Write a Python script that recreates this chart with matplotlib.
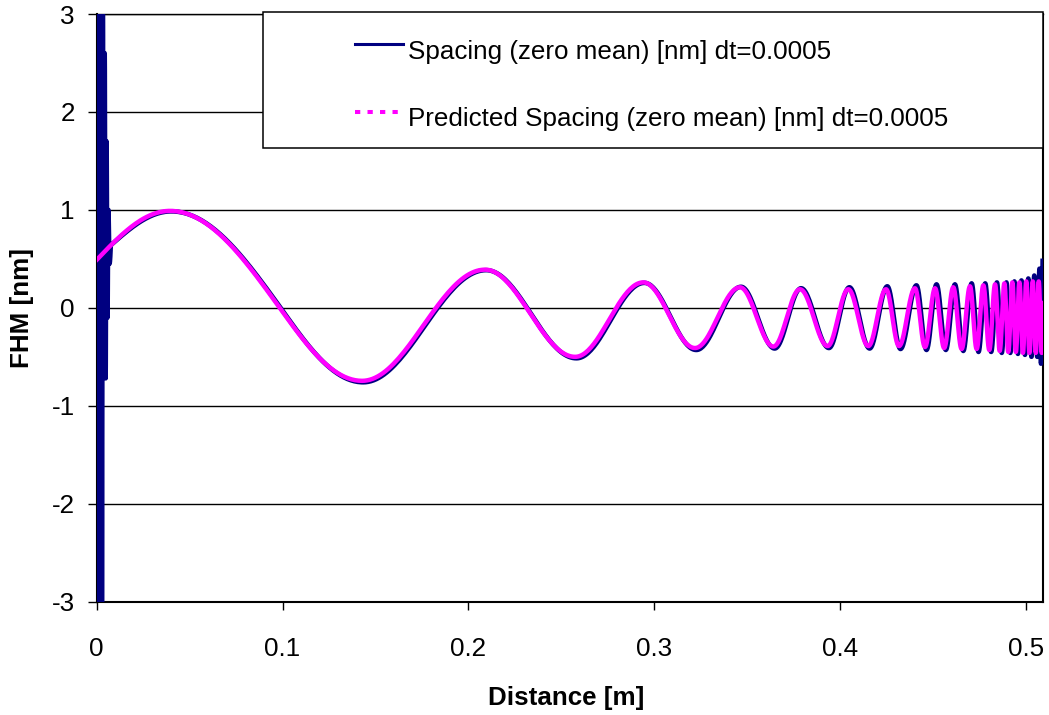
import numpy as np
import matplotlib
matplotlib.use("Agg")
import matplotlib.pyplot as plt
from matplotlib.lines import Line2D
from matplotlib.patches import Rectangle

# Turning points of the measured spacing (navy), Distance [m] -> FHM [nm].
# The first group is the start-up transient right after x = 0.
meas_x = [0.0000, 0.0004, 0.0008, 0.0012, 0.0016, 0.0020, 0.0024, 0.0028,
          0.0033, 0.0038, 0.0043, 0.0048, 0.0053, 0.0058, 0.0063, 0.0069,
          0.0076,
          0.0402, 0.0990, 0.1434, 0.2096, 0.2582, 0.2948, 0.3227, 0.3468,
          0.3649, 0.3791, 0.3941, 0.4051, 0.4160, 0.4255, 0.4326, 0.4412,
          0.4466, 0.4520, 0.4570, 0.4619, 0.4664, 0.4709, 0.4746, 0.4782,
          0.4814, 0.4845, 0.4871, 0.4896, 0.4917, 0.4939, 0.4958, 0.4977,
          0.4996, 0.5014, 0.5031, 0.5046, 0.5062, 0.5074, 0.5082, 0.5091]
meas_y = [3.5, -3.8, 3.6, -3.6, 3.5, -3.4, 3.4, -3.3,
          3.2, -0.70, 2.60, -0.72, 1.70, -0.10, 1.00, 0.45,
          0.64,
          0.985, 0.0, -0.760, 0.385, -0.515, 0.255, -0.430, 0.215,
          -0.415, 0.200, -0.410, 0.210, -0.415, 0.220, -0.420, 0.230,
          -0.430, 0.240, -0.430, 0.240, -0.440, 0.250, -0.450, 0.250,
          -0.450, 0.260, -0.460, 0.260, -0.460, 0.270, -0.470, 0.280,
          -0.480, 0.300, -0.500, 0.330, -0.500, 0.400, -0.570, 0.480]

# Turning points of the predicted spacing (magenta).
pred_x = [0.0000, 0.0395, 0.0985, 0.1428, 0.2090, 0.2575, 0.2942, 0.3220,
          0.3462, 0.3642, 0.3785, 0.3934, 0.4045, 0.4153, 0.4248, 0.4318,
          0.4404, 0.4458, 0.4512, 0.4561, 0.4610, 0.4655, 0.4700, 0.4736,
          0.4772, 0.4804, 0.4835, 0.4860, 0.4885, 0.4906, 0.4928, 0.4947,
          0.4966, 0.4985, 0.5003, 0.5020, 0.5038, 0.5054, 0.5070, 0.5086,
          0.5093]
pred_y = [0.49, 0.99, 0.0, -0.745, 0.39, -0.50, 0.26, -0.41,
          0.21, -0.395, 0.19, -0.39, 0.19, -0.39, 0.19, -0.39,
          0.20, -0.40, 0.20, -0.41, 0.21, -0.42, 0.22, -0.42,
          0.23, -0.43, 0.24, -0.44, 0.25, -0.45, 0.26, -0.45,
          0.26, -0.46, 0.27, -0.46, 0.27, -0.46, 0.27, -0.46,
          0.05]

x_ticks = [0, 0.1, 0.2, 0.3, 0.4, 0.5]
x_tick_labels = ["0", "0.1", "0.2", "0.3", "0.4", "0.5"]
y_ticks = [-3, -2, -1, 0, 1, 2, 3]
y_tick_labels = ["-3", "-2", "-1", "0", "1", "2", "3"]

series_labels = ["Spacing (zero mean) [nm] dt=0.0005",
                 "Predicted Spacing (zero mean) [nm] dt=0.0005"]
x_title = "Distance [m]"
y_title = "FHM [nm]"

NAVY = "#000080"
MAGENTA = "#FF00FF"
FONT = ["Liberation Sans", "DejaVu Sans"]
FS = 18.7

plt.rcParams["font.family"] = FONT
plt.rcParams["axes.unicode_minus"] = False
plt.rcParams["lines.scale_dashes"] = False


def trace(xs, ys, samples=48):
    """Smooth path through turning points: half-cosine arcs between
    extrema, quarter arcs next to points that are not extrema."""
    xs = np.asarray(xs, float)
    ys = np.asarray(ys, float)
    n = len(xs)
    turn = np.zeros(n, bool)
    for i in range(1, n - 1):
        turn[i] = (ys[i] - ys[i - 1]) * (ys[i + 1] - ys[i]) < 0
    px, py = [xs[0]], [ys[0]]
    t = np.linspace(0, 1, samples)[1:]
    for i in range(n - 1):
        if turn[i] and turn[i + 1]:
            s = (1 - np.cos(np.pi * t)) / 2
        elif turn[i + 1]:
            s = np.sin(np.pi * t / 2)
        elif turn[i]:
            s = 1 - np.cos(np.pi * t / 2)
        else:
            s = t
        px.extend(xs[i] + (xs[i + 1] - xs[i]) * t)
        py.extend(ys[i] + (ys[i + 1] - ys[i]) * s)
    return np.array(px), np.array(py)


W, H = 1049, 715


def fx(p):
    return p / W


def fy(p):
    return 1 - p / H


fig = plt.figure(figsize=(W / 100, H / 100), dpi=100)
left, right, top, bottom = 96.7, 1043.0, 14.0, 601.7
ax = fig.add_axes([fx(left), fy(bottom), (right - left) / W, (bottom - top) / H])

ax.set_xlim(0, 0.5093)
ax.set_ylim(-3, 3)

mx, my = trace(meas_x, meas_y)
px_, py_ = trace(pred_x, pred_y)
ax.plot(mx, my, color=NAVY, lw=3.3, zorder=3)
ax.plot(px_, py_, color=MAGENTA, lw=3.2, zorder=4)

ax.set_xticks(x_ticks, x_tick_labels)
ax.set_yticks(y_ticks, y_tick_labels)
ax.yaxis.grid(True, color="black", lw=1.0)
ax.set_axisbelow(True)

for side in ("left", "bottom", "right"):
    ax.spines[side].set_color("black")
    ax.spines[side].set_linewidth(1.5)
ax.spines["top"].set_linewidth(1.0)

ax.tick_params(axis="x", direction="out", length=5.5, width=1.0, pad=20,
               labelsize=FS, colors="black")
ax.tick_params(axis="y", direction="out", length=6.8, width=1.0, pad=8.9,
               labelsize=FS, colors="black")

fig.text(fx(22), fy(308), y_title, rotation=90, ha="center", va="center",
         fontsize=FS, fontweight="bold")
fig.text(fx(566), fy(705), x_title, ha="center", va="baseline",
         fontsize=FS, fontweight="bold")

# legend box
fig.add_artist(Rectangle((fx(262.5), fy(147.7)), (1042.7 - 262.5) / W,
                         (147.7 - 12.3) / H, transform=fig.transFigure,
                         facecolor="white", edgecolor="black", lw=1.1,
                         zorder=5))
fig.add_artist(Line2D([fx(355), fx(403)], [fy(44.3)] * 2, color=NAVY, lw=2.2,
                      transform=fig.transFigure, zorder=6))
fig.add_artist(Line2D([fx(355), fx(400)], [fy(111.7)] * 2, color=MAGENTA,
                      lw=2.9, dashes=(3.8, 5.2), transform=fig.transFigure,
                      zorder=6))
fig.text(fx(408), fy(59), series_labels[0], ha="left", va="baseline",
         fontsize=FS, zorder=7)
fig.text(fx(408), fy(125.7), series_labels[1], ha="left", va="baseline",
         fontsize=FS, zorder=7)

fig.savefig("out.png", dpi=100, facecolor="white")
